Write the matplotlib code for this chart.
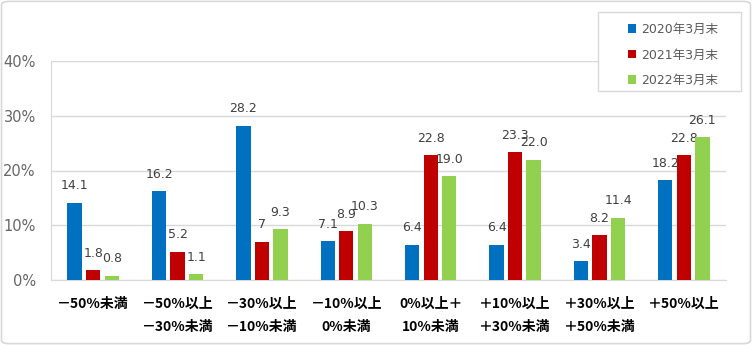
import matplotlib.pyplot as plt
from matplotlib.patches import Rectangle, FancyBboxPatch
import numpy as np

plt.rcParams['font.family'] = ['DejaVu Sans', 'Noto Sans CJK JP']

categories = ['－50%未満', '－50%以上\n－30%未満', '－30%以上\n－10%未満', '－10%以上\n0%未満',
              '0%以上＋\n10%未満', '＋10%以上\n＋30%未満', '＋30%以上\n＋50%未満', '＋50%以上']
series_names = ['2020年3月末', '2021年3月末', '2022年3月末']
v2020 = [14.1, 16.2, 28.2, 7.1, 6.4, 6.4, 3.4, 18.2]
v2021 = [1.8, 5.2, 7.0, 8.9, 22.8, 23.3, 8.2, 22.8]
v2022 = [0.8, 1.1, 9.3, 10.3, 19.0, 22.0, 11.4, 26.1]
lab2020 = ['14.1', '16.2', '28.2', '7.1', '6.4', '6.4', '3.4', '18.2']
lab2021 = ['1.8', '5.2', '7', '8.9', '22.8', '23.3', '8.2', '22.8']
lab2022 = ['0.8', '1.1', '9.3', '10.3', '19.0', '22.0', '11.4', '26.1']
colors = ['#0070C0', '#C00000', '#92D050']

fig = plt.figure(figsize=(7.52, 3.45), dpi=100)
ax = fig.add_axes([51/752, 1-280/345, (726-51)/752, (280-61)/345])

x = np.arange(len(categories))
w = 0.17
off = 0.22
bars = []
for i, (vals, labs) in enumerate(zip([v2020, v2021, v2022], [lab2020, lab2021, lab2022])):
    b = ax.bar(x + (i-1)*off, vals, w, color=colors[i], label=series_names[i], zorder=3)
    bars.append(b)
    for xi, v, t in zip(x + (i-1)*off, vals, labs):
        ax.annotate(t, (xi, v), xytext=(0, 9.7), textcoords='offset points',
                    ha='center', va='baseline', fontsize=9, color='#404040')

ax.set_xlim(-0.5, len(categories)-0.5)
ax.set_ylim(0, 40)
ax.set_yticks([0, 10, 20, 30, 40])
ax.set_yticklabels(['0%', '10%', '20%', '30%', '40%'], fontsize=10.5, color='#666666')
ax.set_xticks(x)
ax.set_xticklabels(categories, fontsize=10, fontweight='bold', family=['Noto Sans CJK JP'],
                   linespacing=1.85, color='black')
ax.tick_params(axis='both', length=0)
ax.tick_params(axis='y', pad=11)
ax.tick_params(axis='x', pad=12)
ax.grid(axis='y', color='#d9d9d9', linewidth=1, zorder=0)
for s in ['top', 'right']:
    ax.spines[s].set_visible(False)
ax.spines['left'].set_color('#d9d9d9')
ax.spines['bottom'].set_color('#d9d9d9')

# legend box
fig.patches.append(Rectangle((598/752, 1-91/345), (741-598)/752, (91-12)/345,
                             transform=fig.transFigure, facecolor='white',
                             edgecolor='#d9d9d9', linewidth=1, zorder=5))
leg = fig.legend(handles=bars, labels=series_names, loc='upper left',
                 bbox_to_anchor=(618/752, 1-13/345), frameon=False, fontsize=9,
                 handlelength=0.65, handleheight=0.65, handletextpad=0.4,
                 labelspacing=1.0, borderpad=0.3)
for t in leg.get_texts():
    t.set_color('#595959')
leg.set_zorder(6)

# outer border
fig.patches.append(FancyBboxPatch((0.002, 0.004), 0.996, 0.992,
                                  boxstyle='round,pad=0,rounding_size=0.01',
                                  transform=fig.transFigure, facecolor='none',
                                  edgecolor='#d9d9d9', linewidth=1.2))

fig.savefig('out.png', dpi=100)
